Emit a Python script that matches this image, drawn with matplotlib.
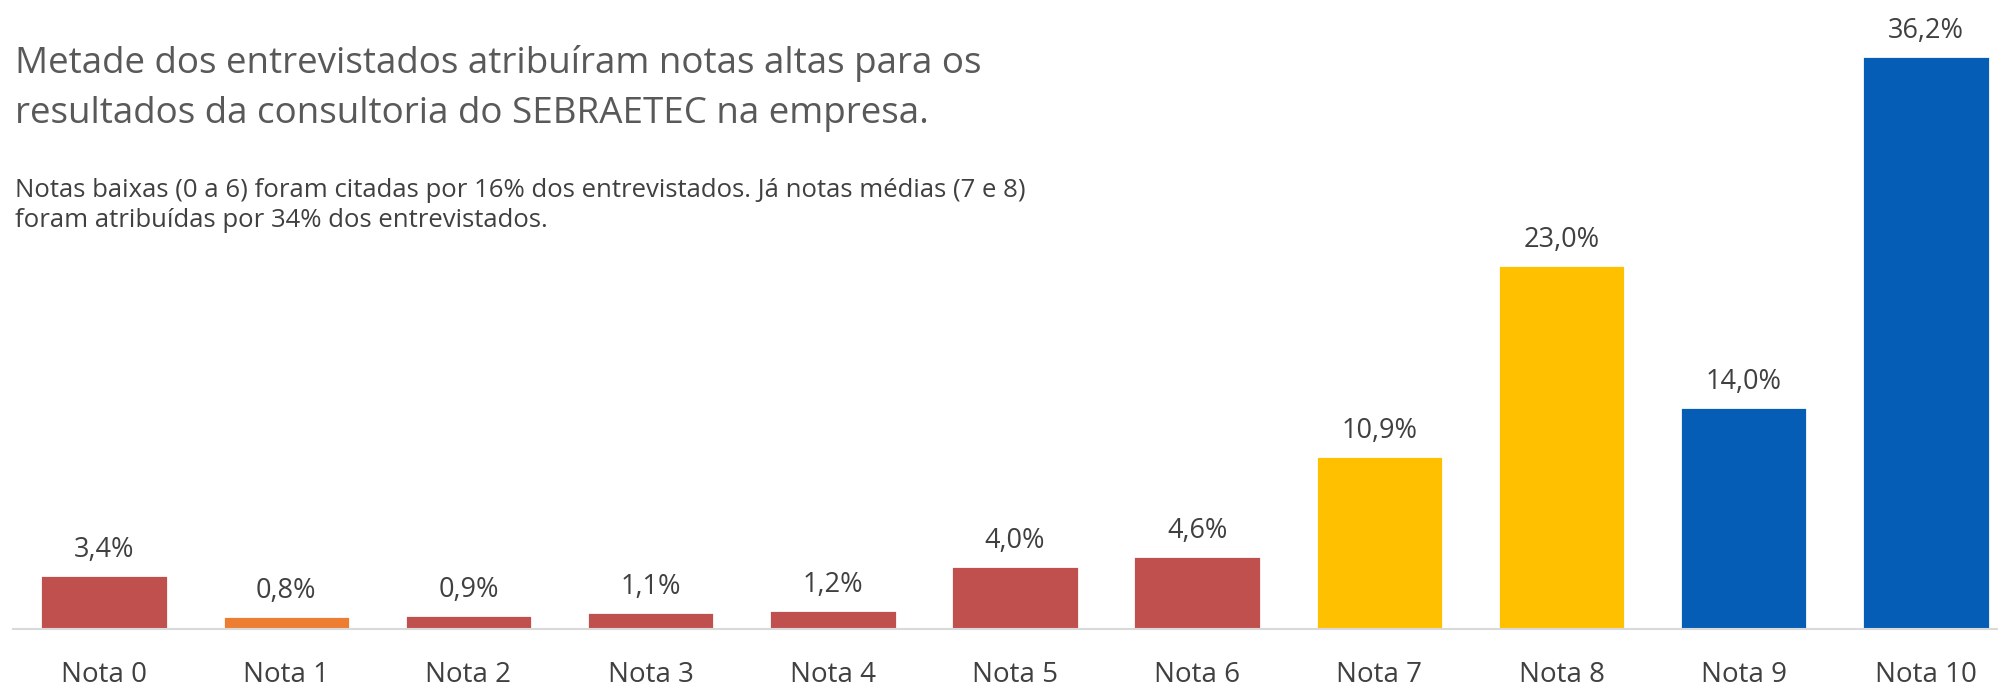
import numpy as np
import matplotlib.pyplot as plt

# --- dados ---
categorias = ['Nota 0', 'Nota 1', 'Nota 2', 'Nota 3', 'Nota 4', 'Nota 5',
              'Nota 6', 'Nota 7', 'Nota 8', 'Nota 9', 'Nota 10']
valores = [3.4, 0.8, 0.9, 1.1, 1.2, 4.0, 4.6, 10.9, 23.0, 14.0, 36.2]
cores = ['#C0504D', '#ED7D31', '#C0504D', '#C0504D', '#C0504D', '#C0504D',
         '#C0504D', '#FFC000', '#FFC000', '#055DB5', '#055DB5']

titulo = 'Metade dos entrevistados atribuíram notas altas para os\nresultados da consultoria do SEBRAETEC na empresa.'
subtitulo = ('Notas baixas (0 a 6) foram citadas por 16% dos entrevistados. Já notas médias (7 e 8)\n'
             'foram atribuídas por 34% dos entrevistados.')

plt.rcParams['font.family'] = ['Open Sans', 'DejaVu Sans']
cinza = '#404040'

W, H = 1998, 686
fig = plt.figure(figsize=(W/100, H/100), dpi=100)

# eixo: base em y=629 px, centros das barras de 104 a 1926 px
x0, x1 = 13, 2017
ax = fig.add_axes([x0/W, (H-629)/H, (x1-x0)/W, 629/H])
x = np.arange(len(valores))
barras = ax.bar(x, valores, width=0.7, color=cores, edgecolor='white', linewidth=2, zorder=2)
ax.set_xlim(-0.5, 10.5)
ax.set_ylim(0, 629/15.83)

for xi, v in zip(x, valores):
    ax.text(xi, v + 0.7, f'{v:.1f}%'.replace('.', ','), ha='center', va='bottom',
            fontsize=19.5, color=cinza)

ax.set_xticks(x)
ax.set_xticklabels(categorias, fontsize=20, color=cinza)
ax.tick_params(axis='x', length=0, pad=23)
ax.set_yticks([])
for s in ['top', 'right', 'left']:
    ax.spines[s].set_visible(False)
ax.spines['bottom'].set_color('#D9D9D9')
ax.spines['bottom'].set_linewidth(1.5)

fig.text(15/W, 1 - 45/H, titulo, ha='left', va='top', fontsize=26.5, color='#595959',
         linespacing=1.5)
fig.text(15/W, 1 - 178/H, subtitulo, ha='left', va='top', fontsize=18.5, color=cinza,
         linespacing=1.25)

fig.savefig('out.png', dpi=100)
